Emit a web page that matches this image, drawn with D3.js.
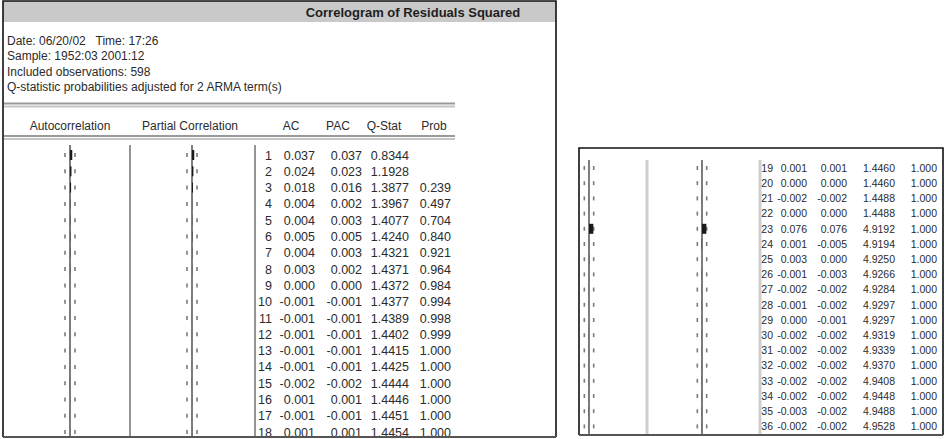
<!DOCTYPE html>
<html>
<head>
<meta charset="utf-8">
<script src="https://cdn.jsdelivr.net/npm/d3@7/dist/d3.min.js"></script>
<style>
  html, body { margin: 0; padding: 0; background: #fff; }
  svg { display: block; }
  text { font-family: "Liberation Sans", Arial, sans-serif; fill: #2b2b2b; }
</style>
</head>
<body>
<svg id="chart" width="949" height="439"></svg>
<script>
// Correlogram of squared residuals: lags, AC, PAC, Q-statistic and p-values
const lags = [1, 2, 3, 4, 5, 6, 7, 8, 9, 10, 11, 12, 13, 14, 15, 16, 17, 18,
              19, 20, 21, 22, 23, 24, 25, 26, 27, 28, 29, 30, 31, 32, 33, 34, 35, 36];
const acValues = [0.037, 0.024, 0.018, 0.004, 0.004, 0.005, 0.004, 0.003, 0.000,
                  -0.001, -0.001, -0.001, -0.001, -0.001, -0.002, 0.001, -0.001, 0.001,
                  0.001, 0.000, -0.002, 0.000, 0.076, 0.001, 0.003, -0.001, -0.002,
                  -0.001, 0.000, -0.002, -0.002, -0.002, -0.002, -0.002, -0.003, -0.002];
const pacValues = [0.037, 0.023, 0.016, 0.002, 0.003, 0.005, 0.003, 0.002, 0.000,
                   -0.001, -0.001, -0.001, -0.001, -0.001, -0.002, 0.001, -0.001, 0.001,
                   0.001, 0.000, -0.002, 0.000, 0.076, -0.005, 0.000, -0.003, -0.002,
                   -0.002, -0.001, -0.002, -0.002, -0.002, -0.002, -0.002, -0.002, -0.002];
const qStats = [0.8344, 1.1928, 1.3877, 1.3967, 1.4077, 1.4240, 1.4321, 1.4371, 1.4372,
                1.4377, 1.4389, 1.4402, 1.4415, 1.4425, 1.4444, 1.4446, 1.4451, 1.4454,
                1.4460, 1.4460, 1.4488, 1.4488, 4.9192, 4.9194, 4.9250, 4.9266, 4.9284,
                4.9297, 4.9297, 4.9319, 4.9339, 4.9370, 4.9408, 4.9448, 4.9488, 4.9528];
const probValues = [null, null, 0.239, 0.497, 0.704, 0.840, 0.921, 0.964, 0.984,
                    0.994, 0.998, 0.999, 1.000, 1.000, 1.000, 1.000, 1.000, 1.000,
                    1.000, 1.000, 1.000, 1.000, 1.000, 1.000, 1.000, 1.000, 1.000,
                    1.000, 1.000, 1.000, 1.000, 1.000, 1.000, 1.000, 1.000, 1.000];

const titleText = "Correlogram of Residuals Squared";
const infoLines = [
  "Date: 06/20/02   Time: 17:26",
  "Sample: 1952:03 2001:12",
  "Included observations: 598",
  "Q-statistic probabilities adjusted for 2 ARMA term(s)"
];
const columnHeaders = ["Autocorrelation", "Partial Correlation", "AC", "PAC", "Q-Stat", "Prob"];
const confBound = 0.082; // two standard-error band for 598 observations

const rows = lags.map((lag, i) => ({
  lag, ac: acValues[i], pac: pacValues[i], q: qStats[i], prob: probValues[i]
}));

// plain hyphen for negatives, as in the statistics table
const locale = d3.formatLocale({ decimal: ".", thousands: ",", grouping: [3], currency: ["", ""], minus: "-" });
const fmt3 = locale.format(".3f");
const fmt4 = locale.format(".4f");
const svg = d3.select("#chart");
const defs = svg.append("defs");

// Draws one block of correlogram rows inside a framed panel
function drawRows(g, data, L) {
  const y = d3.scaleLinear()
    .domain([data[0].lag, data[data.length - 1].lag])
    .range([L.rowStart, L.rowStart + (data.length - 1) * L.rowStep]);
  const xAc = d3.scaleLinear().domain([-1, 1]).range([L.acAxis - L.half, L.acAxis + L.half]);
  const xPac = d3.scaleLinear().domain([-1, 1]).range([L.pacAxis - L.half, L.pacAxis + L.half]);

  // column separators
  g.selectAll("line.sep").data(L.sep).join("line")
    .attr("class", "sep")
    .attr("x1", d => d).attr("x2", d => d)
    .attr("y1", L.lineTop).attr("y2", L.lineBottom)
    .attr("stroke", L.sepColor).attr("stroke-width", L.sepWidth);

  [[xAc, "ac"], [xPac, "pac"]].forEach(([x, key]) => {
    const panel = g.append("g");
    // zero axis
    panel.append("line")
      .attr("x1", x(0)).attr("x2", x(0))
      .attr("y1", L.lineTop).attr("y2", L.lineBottom)
      .attr("stroke", "#5e5e5e").attr("stroke-width", 1.6);
    // dotted confidence bounds
    [-confBound, confBound].forEach(b => {
      panel.selectAll(null).data(data).join("line")
        .attr("x1", x(b)).attr("x2", x(b))
        .attr("y1", d => y(d.lag) - 2).attr("y2", d => y(d.lag) + 2)
        .attr("stroke", "#7a7a7a").attr("stroke-width", 1.6);
    });
    // bars
    panel.selectAll("rect").data(data).join("rect")
      .attr("x", d => Math.min(x(0), x(d[key])))
      .attr("width", d => Math.abs(x(d[key]) - x(0)))
      .attr("y", d => y(d.lag) - L.barH / 2)
      .attr("height", L.barH)
      .attr("fill", "#1a1a1a");
  });

  // numeric table
  const cols = [
    { x: L.lagX, f: d => String(d.lag) },
    { x: L.cols[0], f: d => fmt3(d.ac) },
    { x: L.cols[1], f: d => fmt3(d.pac) },
    { x: L.cols[2], f: d => fmt4(d.q) },
    { x: L.cols[3], f: d => d.prob == null ? "" : fmt3(d.prob) }
  ];
  cols.forEach(c => {
    g.selectAll(null).data(data).join("text")
      .attr("x", c.x).attr("y", d => y(d.lag))
      .attr("dy", "0.36em")
      .attr("text-anchor", "end")
      .style("font-size", L.font + "px")
      .text(c.f);
  });
}

// ---- left window: header and lags 1-18 ----
defs.append("clipPath").attr("id", "clipLeft")
  .append("rect").attr("x", 4).attr("y", 2).attr("width", 551).attr("height", 434);

const left = svg.append("g");
left.append("rect").attr("x", 3).attr("y", 1).attr("width", 553).attr("height", 21)
  .attr("fill", "#c9c9c9");
left.append("text").attr("x", 413).attr("y", 16.5).attr("text-anchor", "middle")
  .style("font-size", "13px").style("font-weight", "bold").style("fill", "#1e1e1e")
  .text(titleText);

left.selectAll("text.info").data(infoLines).join("text")
  .attr("class", "info")
  .attr("x", 7).attr("y", (d, i) => 45 + i * 15.3)
  .style("font-size", "12px")
  .style("white-space", "pre")
  .attr("xml:space", "preserve")
  .text(d => d);

// double rules around the column header
[[103.5, "#9a9a9a"], [106.5, "#c4c4c4"], [136, "#9a9a9a"], [139, "#c4c4c4"]].forEach(([yy, c]) => {
  left.append("line").attr("x1", 4).attr("x2", 455).attr("y1", yy).attr("y2", yy)
    .attr("stroke", c).attr("stroke-width", 2);
});

const headerX = [70, 190, 291, 338, 384, 434];
left.selectAll("text.hdr").data(columnHeaders).join("text")
  .attr("class", "hdr")
  .attr("x", (d, i) => headerX[i]).attr("y", 130)
  .attr("text-anchor", "middle")
  .style("font-size", "12px")
  .text(d => d);

const leftRows = left.append("g").attr("clip-path", "url(#clipLeft)");
drawRows(leftRows, rows.filter(d => d.lag <= 18), {
  rowStart: 155, rowStep: 16.3, lineTop: 145, lineBottom: 437,
  acAxis: 70, pacAxis: 192, half: 61, barH: 10,
  sep: [130, 255], sepColor: "#959595", sepWidth: 2,
  lagX: 272, cols: [315, 362, 409, 451], font: 12.5
});

// window frame
left.append("path")
  .attr("d", "M3,437 V1 H556 V437")
  .attr("fill", "none").attr("stroke", "#111").attr("stroke-width", 1.6);
left.append("line").attr("x1", 3).attr("x2", 556).attr("y1", 437).attr("y2", 437)
  .attr("stroke", "#555").attr("stroke-width", 2);

// ---- right window: lags 19-36 ----
defs.append("clipPath").attr("id", "clipRight")
  .append("rect").attr("x", 580).attr("y", 149).attr("width", 362).attr("height", 285);

const right = svg.append("g");
const rightRows = right.append("g").attr("clip-path", "url(#clipRight)");
drawRows(rightRows, rows.filter(d => d.lag >= 19), {
  rowStart: 168, rowStep: 15.2, lineTop: 160, lineBottom: 434,
  acAxis: 589, pacAxis: 702, half: 57, barH: 10,
  sep: [647, 760], sepColor: "#cfcfcf", sepWidth: 3,
  lagX: 773, cols: [807, 847, 895, 937], font: 10.5
});

right.append("path")
  .attr("d", "M579,435 V148 H943 V435")
  .attr("fill", "none").attr("stroke", "#111").attr("stroke-width", 1.6);
right.append("line").attr("x1", 579).attr("x2", 943).attr("y1", 435).attr("y2", 435)
  .attr("stroke", "#555").attr("stroke-width", 2);
</script>
</body>
</html>
